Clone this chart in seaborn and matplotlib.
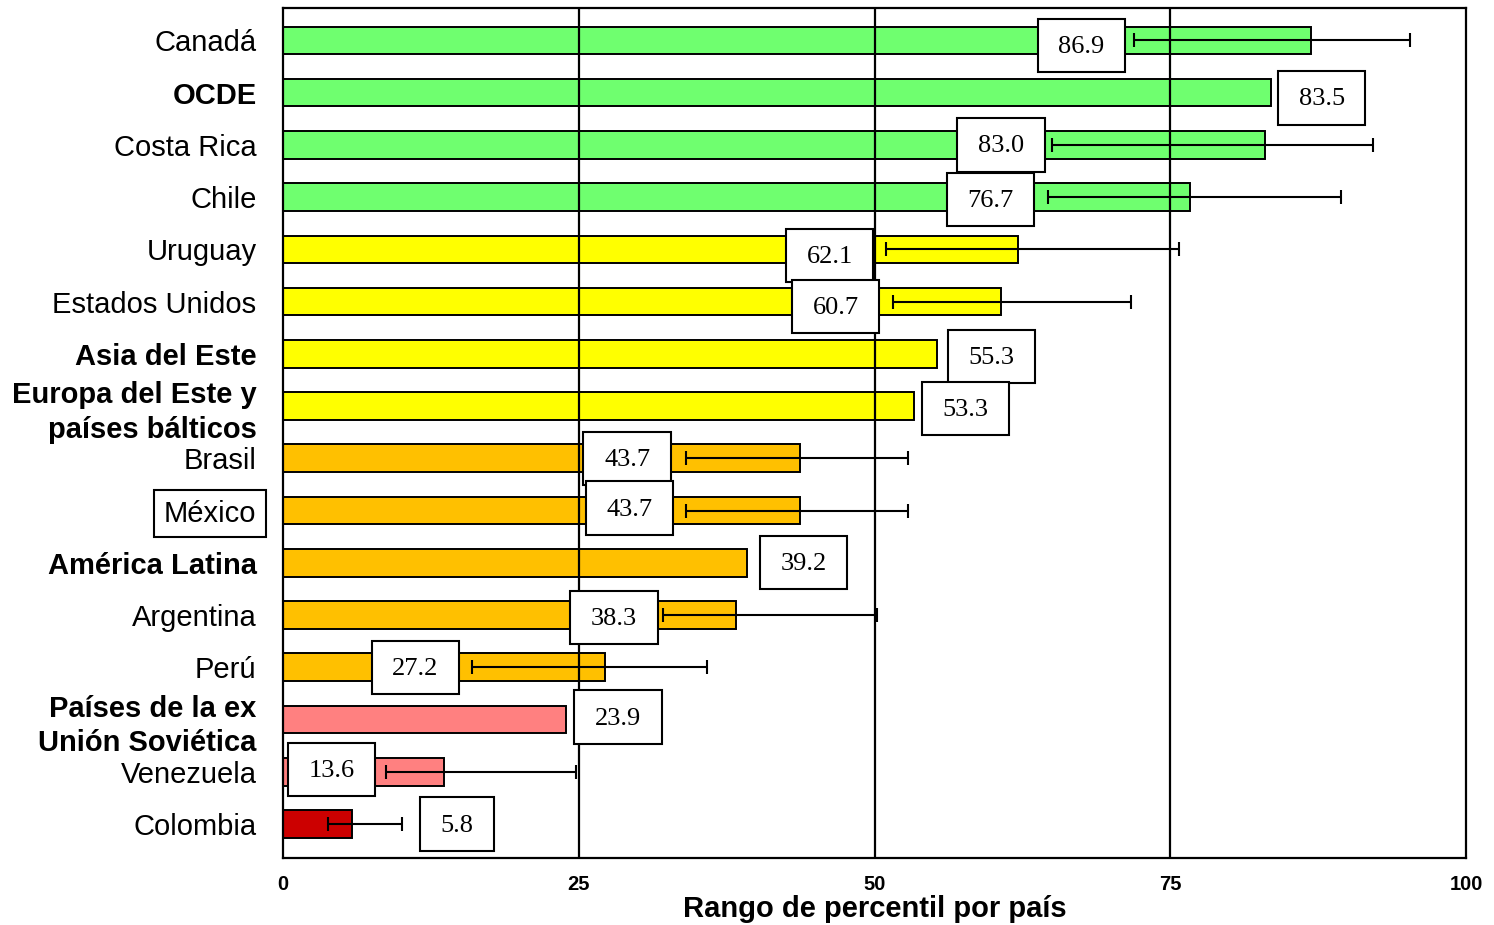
import matplotlib
matplotlib.use("Agg")
import matplotlib.pyplot as plt
import seaborn as sns
import pandas as pd
import numpy as np
from matplotlib.patches import Rectangle

# ---------------- data ----------------
categories = ["Canadá", "OCDE", "Costa Rica", "Chile", "Uruguay", "Estados Unidos",
              "Asia del Este", "Europa del Este y\npaíses bálticos", "Brasil", "México",
              "América Latina", "Argentina", "Perú", "Países de la ex\nUnión Soviética",
              "Venezuela", "Colombia"]
values = [86.9, 83.5, 83.0, 76.7, 62.1, 60.7, 55.3, 53.3, 43.7, 43.7, 39.2, 38.3,
          27.2, 23.9, 13.6, 5.8]
err_low = [71.9, None, 65.0, 64.7, 51.0, 51.6, None, None, 34.1, 34.1, None, 32.1,
           16.0, None, 8.7, 3.8]
err_high = [95.3, None, 92.1, 89.4, 75.7, 71.7, None, None, 52.8, 52.8, None, 50.2,
            35.8, None, 24.8, 10.1]
groups = ["alto"] * 4 + ["medio-alto"] * 4 + ["medio-bajo"] * 5 + ["bajo"] * 2 + ["muy bajo"]
bold_labels = ["OCDE", "Asia del Este", "Europa del Este y\npaíses bálticos",
               "América Latina", "Países de la ex\nUnión Soviética"]
boxed_label = "México"
tick_values = [0, 25, 50, 75, 100]
x_title = "Rango de percentil por país"

# ---------------- layout / style ----------------
palette = {"alto": "#6FFF6F", "medio-alto": "#FFFF00", "medio-bajo": "#FFC000",
           "bajo": "#FF8080", "muy bajo": "#CC0000"}
# centre of each value-label box (x in data units) and vertical shift
label_x = [67.5, 87.8, 60.7, 59.8, 46.2, 46.7, 59.9, 57.7, 29.1, 29.3, 44.0, 28.0,
           11.2, 28.3, 4.1, 14.7]
label_dy = [0.1, 0.1, 0.0, 0.05, 0.12, 0.1, 0.05, 0.05, 0.0, -0.05, 0.0, 0.05,
            0.0, -0.05, -0.05, 0.0]
box_w = [7.4] * 15 + [6.2]
box_h = 1.02

df = pd.DataFrame({"pais": categories, "valor": values, "grupo": groups})

fig = plt.figure(figsize=(14.94, 9.25), dpi=100)
ax = fig.add_axes([283 / 1494, 1 - 858 / 925, (1466 - 283) / 1494, (858 - 8) / 925])

sns.barplot(data=df, y="pais", x="valor", hue="grupo", palette=palette, order=categories,
            orient="h", dodge=False, width=0.53, edgecolor="black", linewidth=1.4,
            saturation=1, legend=False, ax=ax, zorder=2)

ax.set_xlim(0, 100)
ax.set_ylim(15.65, -0.62)

for xv in tick_values[1:-1]:
    ax.axvline(xv, color="black", lw=1.6, zorder=2.5)

# error bars
for i, (lo, hi) in enumerate(zip(err_low, err_high)):
    if lo is None:
        continue
    mid = (lo + hi) / 2
    ax.errorbar(mid, i, xerr=(hi - lo) / 2, fmt="none", ecolor="black", elinewidth=1.5,
                capsize=5, capthick=1.5, zorder=3)

# value labels in boxes
for i, v in enumerate(values):
    cx = label_x[i]
    cy = i + label_dy[i]
    ax.add_patch(Rectangle((cx - box_w[i] / 2, cy - box_h / 2), box_w[i], box_h,
                           facecolor="white", edgecolor="black", lw=1.5, zorder=4))
    ax.text(cx, cy + 0.03, f"{v:.1f}", ha="center", va="center", fontsize=19,
            family="Liberation Serif", zorder=5)

# ticks
ax.set_xticks(tick_values)
ax.set_xticklabels([str(t) for t in tick_values], fontsize=14.5, fontweight="bold",
                   family="Liberation Sans")
ax.tick_params(axis="x", length=0, pad=12)
ax.tick_params(axis="y", length=0, pad=19)
ax.set_yticks(range(len(categories)))
ax.set_yticklabels(categories, fontsize=21, family="Liberation Sans", linespacing=1.3)
for lab in ax.get_yticklabels():
    t = lab.get_text()
    if t in bold_labels:
        lab.set_fontweight("bold")
    if t == boxed_label:
        lab.set_bbox(dict(boxstyle="square,pad=0.33", facecolor="white",
                          edgecolor="black", lw=1.5))

ax.set_xlabel(x_title, fontsize=21, fontweight="bold", family="Liberation Sans", labelpad=1)
ax.set_ylabel("")

for s in ax.spines.values():
    s.set_color("black")
    s.set_linewidth(1.6)

fig.savefig("out.png", dpi=100, facecolor="white")
